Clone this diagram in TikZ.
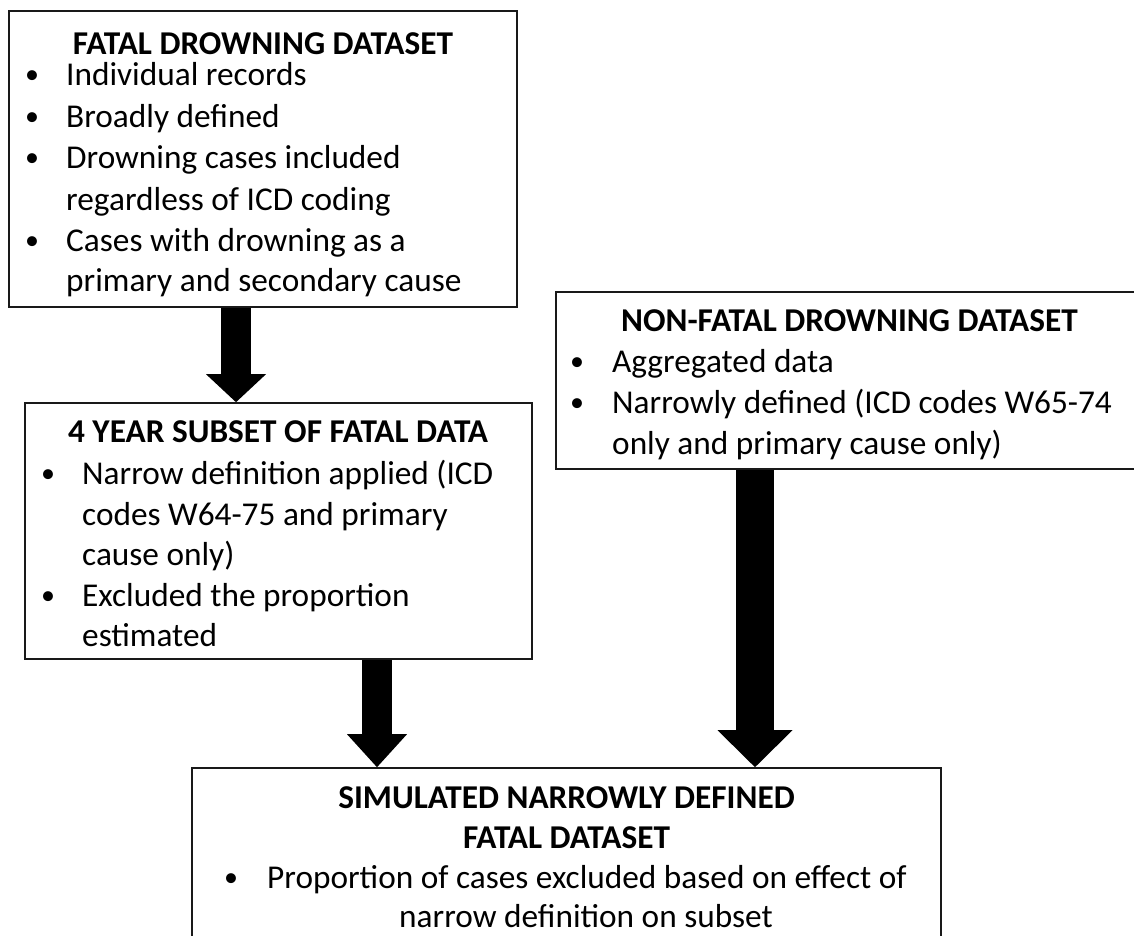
\documentclass[tikz,border=0pt]{standalone}
\usepackage{fontspec}
\setmainfont{Carlito}
\usetikzlibrary{arrows.meta}
\begin{document}
\begin{tikzpicture}[x=1pt,y=-1pt,
  box/.style={draw=black!90, line width=1.6pt, inner sep=0pt, fill=white},
  ttl/.style={inner sep=0pt, anchor=base, font=\bfseries\fontsize{33.3}{40}\selectfont},
  txt/.style={inner sep=0pt, anchor=base west, font=\fontsize{33.3}{40}\selectfont},
  ctxt/.style={inner sep=0pt, anchor=base, font=\fontsize{33.3}{40}\selectfont},
  bul/.style={inner sep=0pt, anchor=base, font=\fontsize{28}{30}\selectfont, yshift=2pt},
  blockA/.style={line width=30pt, draw=black, -{Triangle[width=60pt,length=28pt,line width=0pt]}},
  blockB/.style={line width=30pt, draw=black, -{Triangle[width=60pt,length=33pt,line width=0pt]}},
  blockC/.style={line width=38pt, draw=black, -{Triangle[width=75pt,length=37pt,line width=0pt]}}
]
\useasboundingbox (0,0) rectangle (1134,936);
\fill[white] (0,0) rectangle (1134,936);

% boxes
\node[box, minimum width=508pt, minimum height=296pt] (f) at (263,159) {};
\node[box, minimum width=507pt, minimum height=256pt] (s) at (278.5,531) {};
\node[box, minimum width=594pt, minimum height=177pt] (n) at (853,380.5) {};
\node[box, minimum width=749pt, minimum height=182pt] (r) at (566.5,859) {};

% box 1 text
\node[ttl] (f0) at (263,55) {FATAL DROWNING DATASET};
\node[bul] (fb1) at (32,86) {•};
\node[txt] (f1) at (66,86) {Individual records};
\node[bul] (fb2) at (32,128) {•};
\node[txt] (f2) at (66,128) {Broadly defined};
\node[bul] (fb3) at (32,169) {•};
\node[txt] (f3) at (66,169) {Drowning cases included};
\node[txt] (f4) at (66,210) {regardless of ICD coding};
\node[bul] (fb5) at (32,251) {•};
\node[txt] (f5) at (66,251) {Cases with drowning as a};
\node[txt] (f6) at (66,291) {primary and secondary cause};

% box 2 text
\node[ttl] (s0) at (278,442) {4 YEAR SUBSET OF FATAL DATA};
\node[bul] (sb1) at (48,484.5) {•};
\node[txt] (s1) at (82,484.5) {Narrow definition applied (ICD};
\node[txt] (s2) at (82,525) {codes W64-75 and primary};
\node[txt] (s3) at (82,565.5) {cause only)};
\node[bul] (sb4) at (48,606) {•};
\node[txt] (s4) at (82,606) {Excluded the proportion};
\node[txt] (s5) at (82,646.5) {estimated};

% box 3 text
\node[ttl] (n0) at (849.5,331) {NON-FATAL DROWNING DATASET};
\node[bul] (nb1) at (577,372) {•};
\node[txt] (n1) at (612,372) {Aggregated data};
\node[bul] (nb2) at (577,413) {•};
\node[txt] (n2) at (612,413) {Narrowly defined (ICD codes W65-74};
\node[txt] (n3) at (612,454) {only and primary cause only)};

% box 4 text
\node[ttl] (r0) at (566.5,808) {SIMULATED NARROWLY DEFINED};
\node[ttl] (r1) at (566.5,848) {FATAL DATASET};
\node[bul] (rb2) at (231,888.5) {•};
\node[txt] (r2) at (267,888.5) {Proportion of cases excluded based on effect of};
\node[ctxt] (r3) at (586,927) {narrow definition on subset};

% arrows
\coordinate (a1) at (236,0);
\coordinate (a2) at (377,0);
\coordinate (a3) at (755,0);
\draw[blockA] (f.south -| a1) -- (s.north -| a1);
\draw[blockB] (s.south -| a2) -- (r.north -| a2);
\draw[blockC] (n.south -| a3) -- (r.north -| a3);
\end{tikzpicture}
\end{document}
